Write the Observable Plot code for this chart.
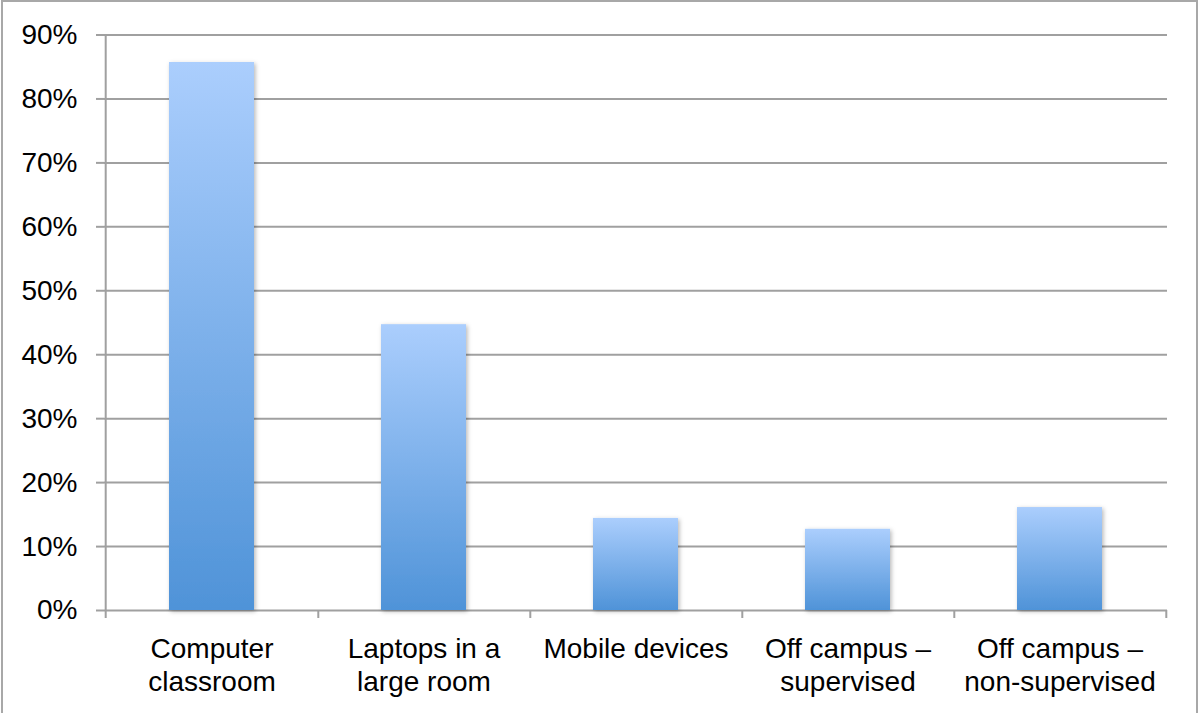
<!DOCTYPE html>
<html>
<head>
<meta charset="utf-8">
<script src="https://cdn.jsdelivr.net/npm/d3@7"></script>
<script src="https://cdn.jsdelivr.net/npm/@observablehq/plot@0.6"></script>
<style>
  html, body { margin: 0; padding: 0; background: #fff; }
  #wrap { position: relative; width: 1201px; height: 713px; overflow: hidden; }
  #border { position: absolute; left: 1px; top: 0px; width: 1197px; height: 760px; border: 2px solid #a8a8a8; box-sizing: border-box; pointer-events: none; }
  #chart { position: absolute; left: 0; top: 0; }
</style>
</head>
<body>
<div id="wrap"><div id="chart"></div><div id="border"></div></div>
<script>
const categories = ["Computer classroom", "Laptops in a large room", "Mobile devices", "Off campus – supervised", "Off campus – non-supervised"];
const labels = ["Computer\nclassroom", "Laptops in a\nlarge room", "Mobile devices", "Off campus –\nsupervised", "Off campus –\nnon-supervised"];
const values = [85.7, 44.7, 14.4, 12.7, 16.1];
const yTicks = [0, 10, 20, 30, 40, 50, 60, 70, 80, 90];

const data = categories.map((c, i) => ({category: c, label: labels[i], value: values[i]}));

const W = 1201, H = 713;
const mL = 104, mR = 34, mT = 34.5, mB = 103;
const step = (W - mL - mR) / categories.length;

const defs = () => {
  const d = d3.create("svg:defs");
  const g = d.append("linearGradient").attr("id", "barGrad").attr("x1", 0).attr("y1", 0).attr("x2", 0).attr("y2", 1);
  g.append("stop").attr("offset", "0%").attr("stop-color", "#abcefd");
  g.append("stop").attr("offset", "100%").attr("stop-color", "#4f93d8");
  const f = d.append("filter").attr("id", "shadow").attr("x", "-20%").attr("y", "-20%").attr("width", "140%").attr("height", "140%");
  f.append("feDropShadow").attr("dx", 1.5).attr("dy", 1.5).attr("stdDeviation", 2).attr("flood-color", "#000").attr("flood-opacity", 0.28);
  return d.node();
};

const chart = Plot.plot({
  width: W,
  height: H,
  marginLeft: mL,
  marginRight: mR,
  marginTop: mT,
  marginBottom: mB,
  style: {fontFamily: "'Liberation Sans', Arial, sans-serif", fontSize: "28px", color: "#000", background: "transparent"},
  x: {domain: categories, padding: 0.6, paddingOuter: 0.3, axis: null},
  y: {domain: [0, 90], axis: null},
  marks: [
    defs,
    Plot.gridY(yTicks, {stroke: "#a0a0a0", strokeOpacity: 1, strokeWidth: 2}),
    Plot.axisY(yTicks, {tickFormat: d => d + "%", tickSize: 8, tickPadding: 19, stroke: "#a0a0a0", strokeWidth: 2, fontSize: 28, fill: "#000", label: null}),
    Plot.ruleX(categories.slice(0, 1), {x: d => d, dx: -step / 2, y1: -1.25, y2: 90, stroke: "#a0a0a0", strokeWidth: 2}),
    Plot.ruleX(categories, {x: d => d, dx: step / 2, y1: -1.25, y2: 0, stroke: "#a0a0a0", strokeWidth: 2}),
    Plot.barY(data, {x: "category", y: "value", fill: "url(#barGrad)", className: "bars"}),
    Plot.text(data, {x: "category", y: 0, text: "label", dy: 24, lineAnchor: "top", lineHeight: 1.19, fontSize: 28, fill: "#000"})
  ]
});

d3.select(chart).selectAll(".bars rect").attr("filter", "url(#shadow)");
document.getElementById("chart").appendChild(chart);
</script>
</body>
</html>
